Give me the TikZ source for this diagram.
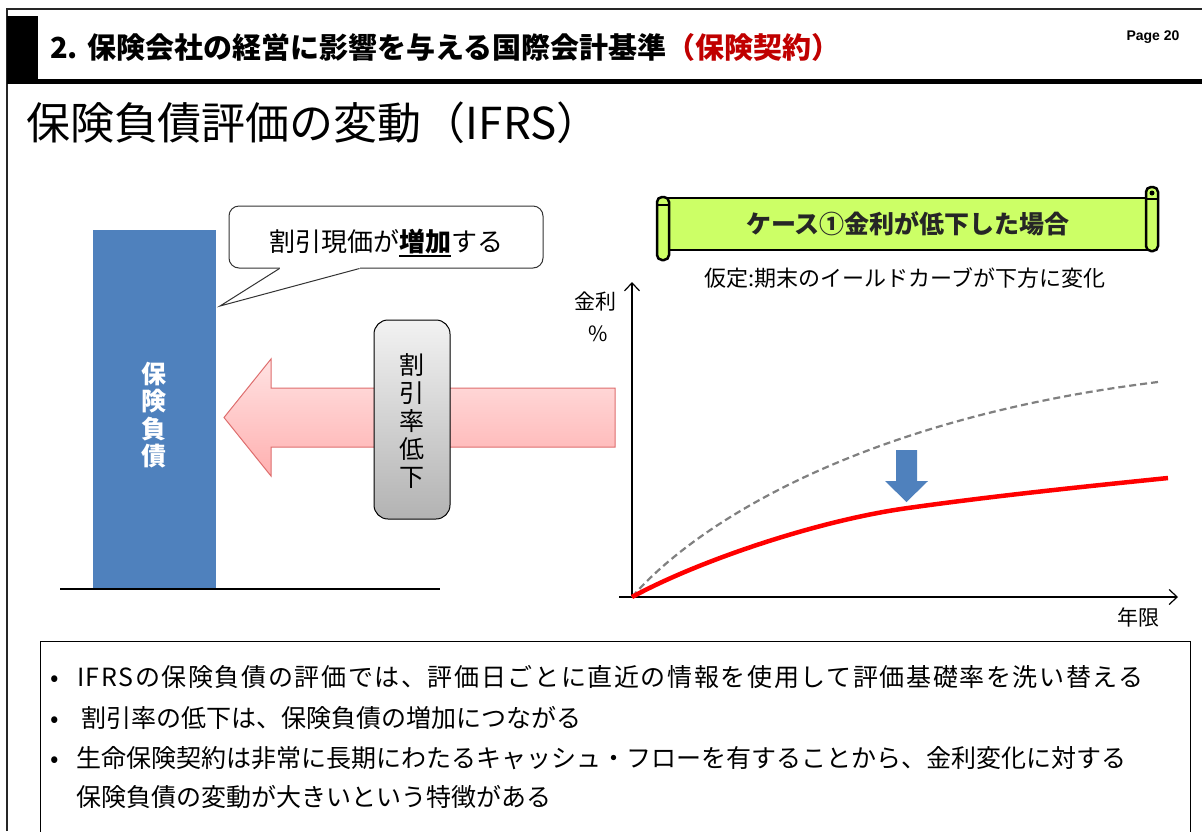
\documentclass[tikz,border=0pt]{standalone}
\usepackage{fontspec}
\setmainfont{Noto Sans CJK JP}
\newfontfamily\arialfont{Liberation Sans}
\usetikzlibrary{arrows.meta,calc}
\definecolor{barblue}{RGB}{79,129,189}
\definecolor{hdrred}{RGB}{192,0,0}
\definecolor{scrollgreen}{RGB}{204,255,102}
\definecolor{pinktop}{RGB}{255,226,226}
\definecolor{pinkbot}{RGB}{255,176,176}
\definecolor{pinkedge}{RGB}{222,110,110}
\definecolor{graycurve}{RGB}{128,128,128}
\newcommand\fsz[2]{\fontsize{#1}{#2}\selectfont}
\newcommand\ulbold[1]{\setbox0\hbox{\bfseries #1}\rlap{\rule[-5pt]{\wd0}{2pt}}\box0}
\tikzset{
  txt/.style={inner sep=0pt, outer sep=0pt},
  bluebar/.style={fill=barblue, draw=none, minimum width=123, minimum height=359, inner sep=0pt},
  calloutbox/.style={draw=black!80, line width=1, fill=white, rounded corners=10, minimum width=314, minimum height=62, inner sep=0pt},
  graybox/.style={draw=black, line width=1, rounded corners=14, top color=black!5, bottom color=black!30, minimum width=76, minimum height=199, inner sep=0pt},
  scrollband/.style={draw=black, line width=2.5, fill=scrollgreen, minimum width=489, minimum height=52, inner sep=0pt},
  axis/.style={line width=1.3, draw=black, -{Straight Barb[length=8pt,width=15pt,line width=1.2pt]}},
  bullettxt/.style={txt, anchor=west, font=\fsz{25}{27}},
}
\begin{document}
\begin{tikzpicture}[x=1pt,y=-1pt]
\useasboundingbox (0,0) rectangle (1202,831);
\fill[white] (0,0) rectangle (1202,831);
% page frame
\draw[line width=1.6, black!85] (7,831) -- (7,9) -- (1202,9);
% header
\fill[black] (7,16) rectangle (38,83);
\fill[black] (7,79) rectangle (1202,84);
\node[txt, anchor=west, font=\fsz{29}{32}\bfseries] (hdr) at (50,47) {2.\hspace{10pt}保険会社の経営に影響を与える国際会計基準\textcolor{hdrred}{（保険契約）}};
\node[txt, font=\arialfont\fsz{14}{16}\bfseries] (page) at (1153,37) {Page 20};
% title
\node[txt, anchor=west, font=\fsz{44}{48}] (title) at (26,123) {保険負債評価の変動（IFRS）};

% left part
\node[bluebar] (bar) at (154.5,409.5) {};
\node[txt, align=center, text=white, font=\fsz{25}{27.5}\bfseries] (bartxt) at (154,415) {保\\険\\負\\債};
\draw[line width=2] (60,589) -- (440,589);

% callout
\node[calloutbox] (cb) at (386,237) {};
\coordinate (tip) at (220,306);
\fill[white] ($(cb.south west)+(51,-3)$) rectangle ($(cb.south west)+(131,2)$);
\draw[line width=1, black!80] ($(cb.south west)+(51,0)$) -- (tip) -- ($(cb.south west)+(131,0)$);
\node[txt, font=\fsz{26}{28}] (cbtxt) at (386,243) {割引現価が\ulbold{増加}する};

% big pink arrow
\path[draw=pinkedge, line width=1, top color=pinktop, bottom color=pinkbot]
  (615,388) -- (271,388) -- (271,359) -- (224,417.5) -- (271,476) -- (271,447) -- (615,447) -- cycle;
\node[graybox] (gb) at (412,419.5) {};
\node[txt, align=center, font=\fsz{25}{28}] (gbtxt) at (412,421) {割\\引\\率\\低\\下};

% scroll banner
\node[scrollband] (banner) at (907.5,224) {};
\draw[line width=2.5, fill=scrollgreen, rounded corners=5] (657,197) rectangle (669,260);
\draw[line width=2.5, fill=scrollgreen, rounded corners=5] (1146,187) rectangle (1158,251);
\draw[line width=1.5] (658,205) -- (668,205);
\fill[black] (1152,193) circle (2.5);
\draw[line width=1.5] (1147,199) -- (1157,199);
\node[txt, font=\fsz{25}{28}\bfseries, text=black!85] (bantxt) at (908,224) {ケース①金利が低下した場合};
\node[txt, font=\fsz{22}{24}] (assume) at (905,278) {仮定:期末のイールドカーブが下方に変化};

% chart
\coordinate (O) at (632,597);
\coordinate (ytop) at (632,282);
\coordinate (xl) at (619,597);
\coordinate (xr) at (1178,597);
\draw[axis] (O) -- (ytop);
\draw[axis] (xl) -- (xr);
\node[txt, font=\fsz{21}{23}] (ylab1) at (595,302) {金利};
\node[txt, font=\fsz{21}{23}] (ylab2) at (598,334) {\%};
\node[txt, font=\fsz{21}{23}] (xlab) at (1138,617) {年限};
\coordinate (g2) at (1158,382);
\coordinate (r1) at (908,508);
\coordinate (r2) at (1168,478);
\draw[graycurve, line width=2.2, dash pattern=on 7pt off 4pt]
  (O) .. controls (690,530) and (850,420) .. (g2);
\draw[red, line width=4.5]
  (O) .. controls (700,560) and (820,520) .. (r1) .. controls (1000,495) and (1100,485) .. (r2);
\fill[barblue] (896,450) -- (917,450) -- (917,481) -- (928,481) -- (906.5,502) -- (885,481) -- (896,481) -- cycle;

% bottom box
\node[draw=black, line width=1.2, minimum width=1150, minimum height=210, anchor=north west, inner sep=0pt] (bbox) at (40,641) {};
\node[bullettxt] (b1) at (50,677) {\makebox[27pt][l]{•}\addfontfeature{LetterSpace=6.5}IFRSの保険負債の評価では、評価日ごとに直近の情報を使用して評価基礎率を洗い替える};
\node[bullettxt] (b2) at (50,718) {\makebox[31pt][l]{•}割引率の低下は、保険負債の増加につながる};
\node[bullettxt] (b3) at (50,758) {\makebox[26pt][l]{•}生命保険契約は非常に長期にわたるキャッシュ・フローを有することから、金利変化に対する};
\node[bullettxt] (b4) at (76,797) {保険負債の変動が大きいという特徴がある};
\end{tikzpicture}
\end{document}
